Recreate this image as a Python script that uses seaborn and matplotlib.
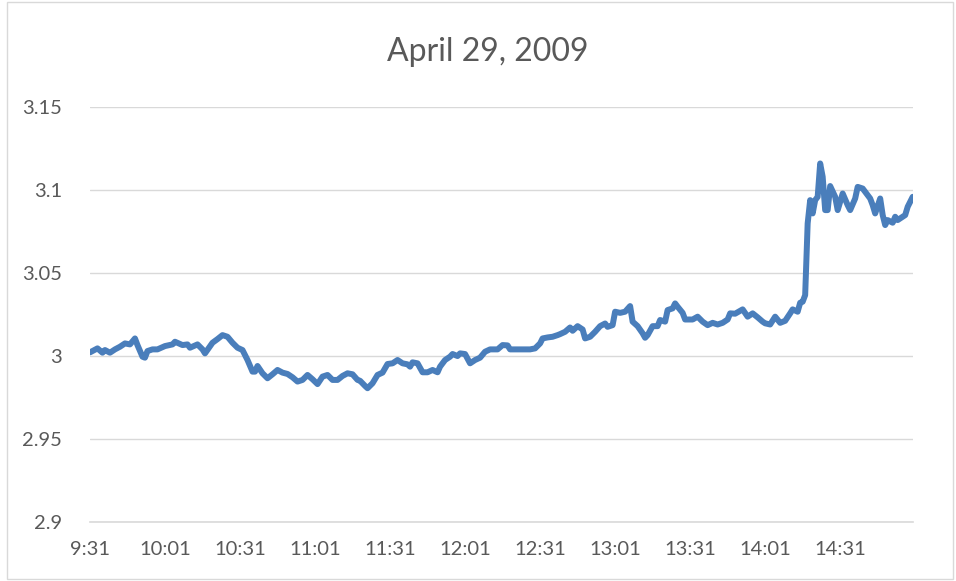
import pandas as pd
import matplotlib.pyplot as plt
import seaborn as sns
from matplotlib.patches import Rectangle

# minutes after 9:31 and price
minutes = [0, 3, 5, 6, 8, 10, 12, 14, 16, 18, 19, 21, 22, 23, 25, 27, 30, 33, 34, 37,
           39, 40, 43, 45, 46, 49, 51, 53, 55, 57, 59, 61, 63, 65, 66, 67, 69, 71, 73, 75,
           77, 79, 81, 83, 85, 87, 89, 91, 93, 95, 97, 99, 101, 103, 105, 107, 108, 110, 111, 113,
           115, 117, 119, 121, 123, 125, 127, 128, 129, 131, 133, 135, 137, 139, 140, 142, 144, 145, 147, 148,
           150, 152, 154, 156, 158, 160, 163, 165, 167, 168, 171, 173, 176, 178, 180, 181, 183, 185, 187, 188,
           190, 192, 193, 195, 197, 198, 200, 202, 204, 206, 207, 209, 210, 212, 214, 216, 217, 219, 221, 222,
           223, 225, 227, 228, 230, 231, 233, 234, 235, 237, 238, 241, 243, 245, 247, 249, 251, 253, 255, 256,
           258, 261, 263, 265, 267, 269, 270, 272, 274, 276, 278, 280, 281, 283, 284, 285, 286, 287, 288, 289,
           290, 291, 292, 293, 294, 295, 296, 298, 299, 301, 303, 304, 306, 307, 309, 310, 312, 313, 314, 316,
           317, 318, 319, 321, 322, 323, 325, 326, 327, 329]
price = [3.0022, 3.0046, 3.0020, 3.0036, 3.0020, 3.0040, 3.0056, 3.0076, 3.0070, 3.0106, 3.0066, 2.9996, 2.9990, 3.0030, 3.0040, 3.0040, 3.0060, 3.0070, 3.0086, 3.0066,
         3.0070, 3.0050, 3.0070, 3.0040, 3.0016, 3.0080, 3.0102, 3.0126, 3.0116, 3.0080, 3.0050, 3.0036, 2.9976, 2.9906, 2.9906, 2.9940, 2.9896, 2.9866, 2.9890, 2.9916,
         2.9900, 2.9892, 2.9872, 2.9846, 2.9856, 2.9886, 2.9860, 2.9831, 2.9876, 2.9886, 2.9856, 2.9856, 2.9880, 2.9896, 2.9890, 2.9856, 2.9851, 2.9820, 2.9806, 2.9836,
         2.9886, 2.9900, 2.9952, 2.9956, 2.9976, 2.9956, 2.9950, 2.9936, 2.9962, 2.9956, 2.9902, 2.9902, 2.9916, 2.9902, 2.9936, 2.9976, 2.9996, 3.0012, 3.0000, 3.0016,
         3.0012, 2.9956, 2.9976, 2.9990, 3.0026, 3.0040, 3.0040, 3.0066, 3.0064, 3.0040, 3.0040, 3.0040, 3.0040, 3.0046, 3.0076, 3.0106, 3.0112, 3.0116, 3.0126, 3.0132,
         3.0146, 3.0172, 3.0152, 3.0180, 3.0160, 3.0106, 3.0116, 3.0146, 3.0180, 3.0196, 3.0176, 3.0186, 3.0267, 3.0260, 3.0267, 3.0301, 3.0207, 3.0180, 3.0137, 3.0110,
         3.0126, 3.0180, 3.0180, 3.0217, 3.0207, 3.0277, 3.0287, 3.0317, 3.0297, 3.0260, 3.0220, 3.0220, 3.0237, 3.0207, 3.0186, 3.0200, 3.0190, 3.0200, 3.0220, 3.0257,
         3.0255, 3.0281, 3.0237, 3.0257, 3.0233, 3.0207, 3.0197, 3.0190, 3.0237, 3.0200, 3.0212, 3.0257, 3.0281, 3.0267, 3.0321, 3.0327, 3.0367, 3.0799, 3.0939, 3.0859,
         3.0939, 3.0959, 3.1160, 3.1080, 3.0879, 3.0879, 3.1024, 3.0959, 3.0879, 3.0979, 3.0909, 3.0879, 3.0949, 3.1019, 3.1009, 3.0989, 3.0949, 3.0909, 3.0859, 3.0949,
         3.0849, 3.0789, 3.0819, 3.0803, 3.0839, 3.0819, 3.0839, 3.0849, 3.0899, 3.0959]

tick_minutes = [0, 30, 60, 90, 120, 150, 180, 210, 240, 270, 300, 329]
tick_labels = ['9:31', '10:01', '10:31', '11:01', '11:31', '12:01', '12:31',
               '13:01', '13:31', '14:01', '14:31', '']
y_ticks = [2.9, 2.95, 3.0, 3.05, 3.1, 3.15]

df = pd.DataFrame({'minute': minutes, 'price': price})

sns.set_style("white")
plt.rcParams['font.family'] = ['Lato', 'DejaVu Sans']

fig = plt.figure(figsize=(9.56, 5.81), dpi=100)
ax = fig.add_axes([0.0941, 0.1015, 0.8606, 0.7143])

sns.lineplot(data=df, x='minute', y='price', ax=ax, color='#4A7EBB', linewidth=4.3)

ax.set_xlim(0, 329)
ax.set_ylim(2.9, 3.15)
ax.set_xticks(tick_minutes)
ax.set_xticklabels(tick_labels)
ax.set_yticks(y_ticks)
ax.set_yticklabels([f'{v:g}' for v in y_ticks])
ax.set_xlabel('')
ax.set_ylabel('')

ax.grid(axis='y', color='#D9D9D9', linewidth=1)
ax.grid(axis='x', visible=False)
ax.set_axisbelow(True)
for side in ['left', 'right', 'top']:
    ax.spines[side].set_visible(False)
ax.spines['bottom'].set_color('#D9D9D9')
ax.spines['bottom'].set_linewidth(1.2)

ax.tick_params(axis='x', direction='inout', length=9, width=1.2, color='#D9D9D9',
               labelsize=14.5, labelcolor='#595959', pad=9)
ax.tick_params(axis='y', length=0, labelsize=14.5, labelcolor='#595959', pad=20)

fig.text(0.510, 0.910, 'April 29, 2009', fontsize=23, color='#595959',
         ha='center', va='center')

# chart area border
fig.patches.append(Rectangle((0.007, 0.003), 0.99, 0.994, transform=fig.transFigure,
                             fill=False, edgecolor='#D9D9D9', linewidth=1))

plt.savefig('out.png', dpi=100)
